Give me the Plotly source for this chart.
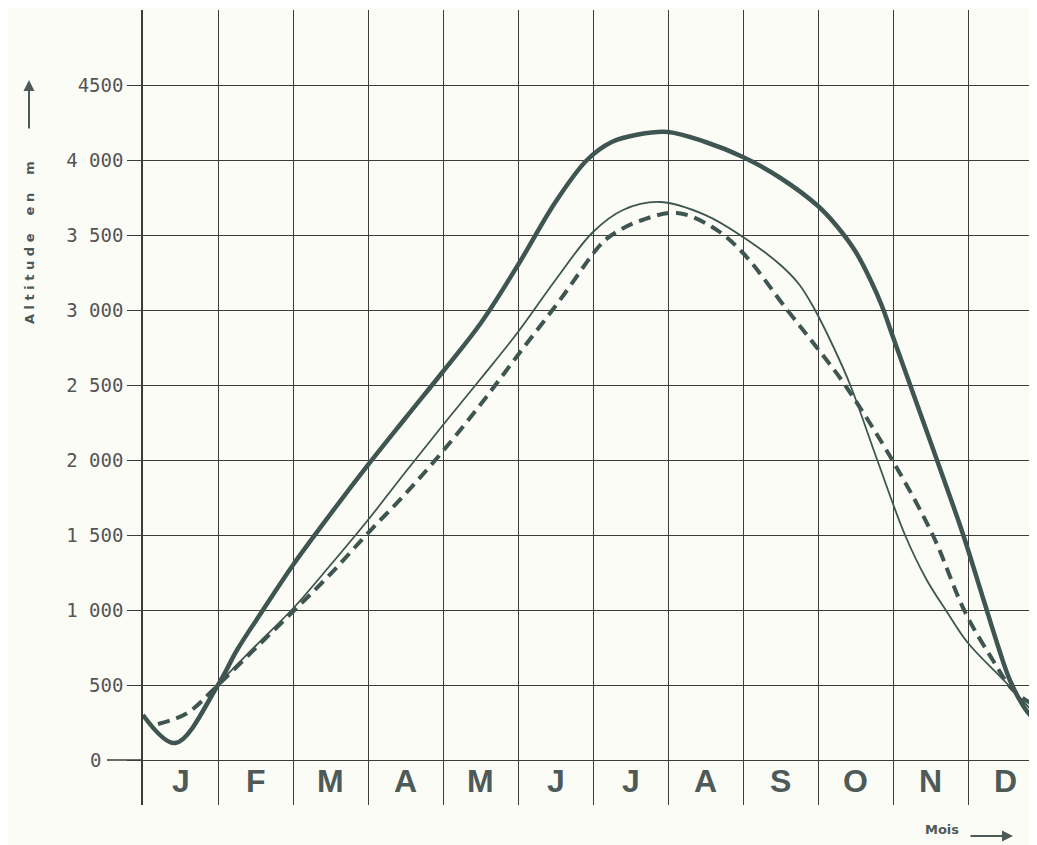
import plotly.graph_objects as go

# ---------------- data ----------------
months = ["J", "F", "M", "A", "M", "J", "J", "A", "S", "O", "N", "D"]

y_tick_values = [0, 500, 1000, 1500, 2000, 2500, 3000, 3500, 4000, 4500]
y_tick_labels = ["", "500", "1 000", "1 500", "2 000", "2 500", "3 000", "3 500", "4 000", "4500"]

# x expressed in months from 1 January (0 = start of J, 1 = start of F, ...)
thick_x = [0, 0.43, 1.0, 1.25, 1.6, 2.0, 2.5, 3.0, 3.5, 4.0, 4.5, 5.0, 5.5, 5.92, 6.25, 6.6,
           7.0, 7.5, 8.0, 8.5, 9.0, 9.25, 9.5, 9.7, 9.85, 10.0, 10.25, 10.6, 10.93, 11.2,
           11.4, 11.56, 11.75, 11.92]
thick_y = [300, 113, 500, 730, 1000, 1300, 1640, 1967, 2280, 2590, 2910, 3300, 3720, 4000, 4120, 4170,
           4187, 4120, 4020, 3880, 3693, 3560, 3390, 3200, 3030, 2820, 2470, 1980, 1510, 1080,
           760, 530, 350, 247]

thin_x = [0, 0.43, 1.0, 1.5, 2.0, 2.5, 3.0, 3.5, 4.0, 4.5, 5.0, 5.5, 6.0, 6.4, 6.89,
          7.5, 8.0, 8.5, 8.75, 8.96, 9.2, 9.43, 9.79, 10.16, 10.45, 10.72, 11.0, 11.5, 11.92]
thin_y = [300, 113, 500, 760, 1010, 1300, 1600, 1920, 2233, 2540, 2853, 3200, 3520, 3667, 3720,
          3633, 3487, 3300, 3170, 3000, 2760, 2500, 2000, 1500, 1200, 987, 780, 520, 290]

dash_x = [0.2, 0.59, 1.0, 1.5, 2.0, 2.5, 3.0, 3.5, 4.0, 4.5, 5.0, 5.56, 6.09, 6.25, 6.6,
          7.12, 7.6, 8.0, 8.59, 9.0, 9.36, 9.99, 10.53, 10.96, 11.33, 11.6, 11.92]
dash_y = [240, 313, 500, 745, 990, 1240, 1513, 1775, 2060, 2370, 2700, 3067, 3430, 3500, 3590,
          3647, 3550, 3380, 3000, 2740, 2500, 2000, 1500, 987, 667, 467, 353]

# ---------------- figure ----------------
LINE = "#3f5551"
GRID = "#3c3c3c"
TXT = "#4e5a58"

fig = go.Figure()
fig.add_trace(go.Scatter(x=dash_x, y=dash_y, mode="lines",
                         line=dict(color=LINE, width=4, dash="12px,7px", shape="spline", smoothing=1.0),
                         hoverinfo="skip"))
fig.add_trace(go.Scatter(x=thin_x, y=thin_y, mode="lines",
                         line=dict(color=LINE, width=1.8, shape="spline", smoothing=1.0),
                         hoverinfo="skip"))
fig.add_trace(go.Scatter(x=thick_x, y=thick_y, mode="lines",
                         line=dict(color=LINE, width=4.5, shape="spline", smoothing=1.0),
                         hoverinfo="skip"))

OFF = 8                      # page body margin
W, H = 1037, 845
L, R = 143 - OFF, 0          # plot left edge at page x=143
T = 10 - OFF                 # plot top at page y=10
B = H - (805 - OFF)          # plot bottom at page y=805
pw, ph = W - L - R, H - T - B
px = lambda x: (x - OFF - L) / pw          # page x -> paper
py = lambda y: (H - B - (y - OFF)) / ph    # page y -> paper

annotations = []
for i, m in enumerate(months):
    annotations.append(dict(x=i + 0.5, y=-140, xref="x", yref="y", text=m, showarrow=False,
                            font=dict(family="Liberation Sans, Arial, sans-serif",
                                      size=32, color=TXT, weight="bold"),
                            xanchor="center", yanchor="middle"))
# zero label
annotations.append(dict(x=px(95), y=0, xref="paper", yref="y", text="0", showarrow=False,
                        font=dict(family="DejaVu Sans Mono", size=19, color="#555"),
                        xanchor="center", yanchor="middle"))
# y title
sp = "\u00a0"
ytitle = sp.join("Altitude") + sp * 4 + sp.join("en") + sp * 4 + "m"
annotations.append(dict(x=px(29), y=py(243), xref="paper", yref="paper",
                        text=ytitle, textangle=-90, showarrow=False,
                        font=dict(family="DejaVu Sans", size=13, color=TXT, weight="bold"),
                        xanchor="center", yanchor="middle"))
annotations.append(dict(x=px(29), y=py(80), xref="paper", yref="paper", text="",
                        showarrow=True, ax=0, ay=50, arrowhead=2, arrowsize=1.1,
                        arrowwidth=2, arrowcolor=TXT))
# x title
annotations.append(dict(x=px(942), y=py(829), xref="paper", yref="paper", text="Mois",
                        showarrow=False,
                        font=dict(family="DejaVu Sans", size=13, color=TXT, weight="bold"),
                        xanchor="center", yanchor="middle"))
annotations.append(dict(x=px(1013), y=py(836), xref="paper", yref="paper", text="",
                        showarrow=True, ax=-44, ay=0, arrowhead=2, arrowsize=1.1,
                        arrowwidth=2, arrowcolor=TXT))

shapes = [dict(type="line", xref="paper", yref="y", x0=px(107), x1=0, y0=0, y1=0,
               line=dict(color=GRID, width=1.3))]

fig.update_layout(
    width=W, height=H,
    margin=dict(l=L, r=R, t=T, b=B, pad=0),
    paper_bgcolor="#fcfcf7", plot_bgcolor="#fcfcf7",
    showlegend=False,
    annotations=annotations, shapes=shapes,
    xaxis=dict(range=[0, pw / 75], tickmode="linear", tick0=0, dtick=1,
               showgrid=True, gridcolor=GRID, gridwidth=1.3, showticklabels=False,
               zeroline=False, showline=False, ticks=""),
    yaxis=dict(range=[-300, 5000], tickmode="array", tickvals=y_tick_values, ticktext=y_tick_labels,
               showgrid=True, gridcolor=GRID, gridwidth=1.3, zeroline=False,
               showline=True, linecolor=GRID, linewidth=1.5,
               ticks="outside", ticklen=14, tickcolor=GRID, tickwidth=1.3,
               tickfont=dict(family="DejaVu Sans Mono", size=19, color="#555")),
)

fig.write_html("out.html")
